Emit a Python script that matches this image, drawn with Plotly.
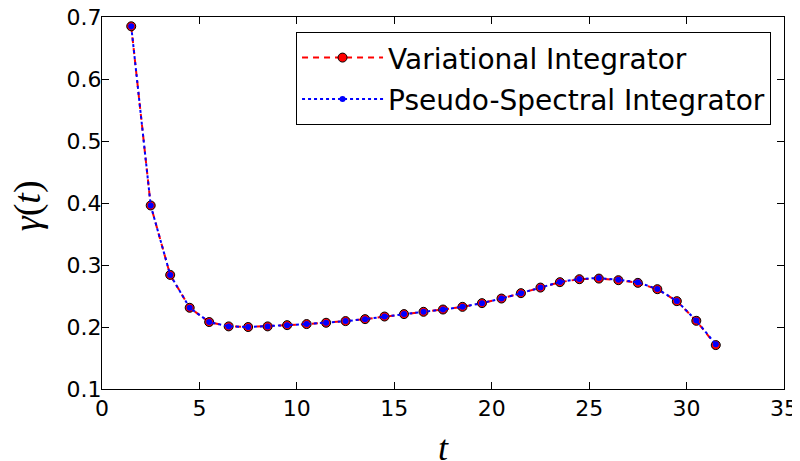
import plotly.graph_objects as go

t = [1.5, 2.5, 3.5, 4.5, 5.5, 6.5, 7.5, 8.5, 9.5, 10.5, 11.5, 12.5, 13.5, 14.5, 15.5,
     16.5, 17.5, 18.5, 19.5, 20.5, 21.5, 22.5, 23.5, 24.5, 25.5, 26.5, 27.5, 28.5,
     29.5, 30.5, 31.5]
gamma_var = [0.685, 0.396, 0.284, 0.231, 0.208, 0.201, 0.200, 0.201, 0.203, 0.2047,
             0.2068, 0.2095, 0.2127, 0.2169, 0.2208, 0.2245, 0.2282, 0.2325, 0.2385,
             0.2459, 0.2546, 0.2636, 0.2723, 0.2771, 0.2781, 0.2755, 0.2712, 0.2610,
             0.2417, 0.2100, 0.1708]
gamma_ps = [0.685, 0.396, 0.284, 0.231, 0.208, 0.201, 0.200, 0.201, 0.203, 0.2047,
            0.2068, 0.2095, 0.2127, 0.2169, 0.2208, 0.2245, 0.2282, 0.2325, 0.2385,
            0.2459, 0.2546, 0.2636, 0.2726, 0.2775, 0.2790, 0.2762, 0.2720, 0.2614,
            0.2420, 0.2103, 0.1720]

x_ticks = [0, 5, 10, 15, 20, 25, 30, 35]
y_ticks = [0.1, 0.2, 0.3, 0.4, 0.5, 0.6, 0.7]

fig = go.Figure()
fig.add_trace(go.Scatter(
    x=t, y=gamma_var, mode="lines+markers", name="Variational Integrator",
    legendgroup="a",
    line=dict(color="red", width=2, dash="6px,5px"),
    marker=dict(color="red", size=9, line=dict(color="black", width=1)),
))
fig.add_trace(go.Scatter(
    x=t, y=gamma_ps, mode="lines+markers", name="Pseudo-Spectral Integrator",
    legendgroup="b",
    line=dict(color="blue", width=2, dash="dot"),
    marker=dict(color="blue", size=6, line=dict(width=0)),
))

axis_common = dict(
    showgrid=False, zeroline=False, showline=True, linecolor="black", linewidth=1,
    mirror="ticks", ticks="inside", ticklen=7, tickcolor="black", automargin=False,
    ticklabeloverflow="allow",
    tickfont=dict(family="DejaVu Sans", size=22, color="black"),
)
fig.update_xaxes(range=[0, 35], tickvals=x_ticks, ticktext=[str(v) for v in x_ticks],
                 **axis_common)
fig.update_yaxes(range=[0.1, 0.7], tickvals=y_ticks, ticktext=[f"{v:.1f}" for v in y_ticks],
                 ticklabelstandoff=-5, **axis_common)
fig.update_layout(
    width=792, height=453,
    margin=dict(l=94, r=16, t=9, b=72),
    plot_bgcolor="white", paper_bgcolor="white",
    font=dict(family="DejaVu Sans", color="black"),
    showlegend=True,
    legend=dict(x=0.981, y=0.96, xanchor="right", yanchor="top",
                bordercolor="black", borderwidth=1, bgcolor="white",
                font=dict(family="DejaVu Sans", size=28, color="black"),
                itemwidth=81, tracegroupgap=2),
    annotations=[
        dict(text="<i>t</i>", xref="paper", yref="paper", x=0.5, y=-0.158,
             xanchor="center", yanchor="middle", showarrow=False,
             font=dict(family="Liberation Serif", size=36, color="black")),
        dict(text="<i>γ</i>(<i>t</i>)", xref="paper", yref="paper", x=-0.108, y=0.492,
             xanchor="center", yanchor="middle", showarrow=False, textangle=-90,
             font=dict(family="Liberation Serif", size=38, color="black")),
    ],
)
fig.write_html("out.html")
